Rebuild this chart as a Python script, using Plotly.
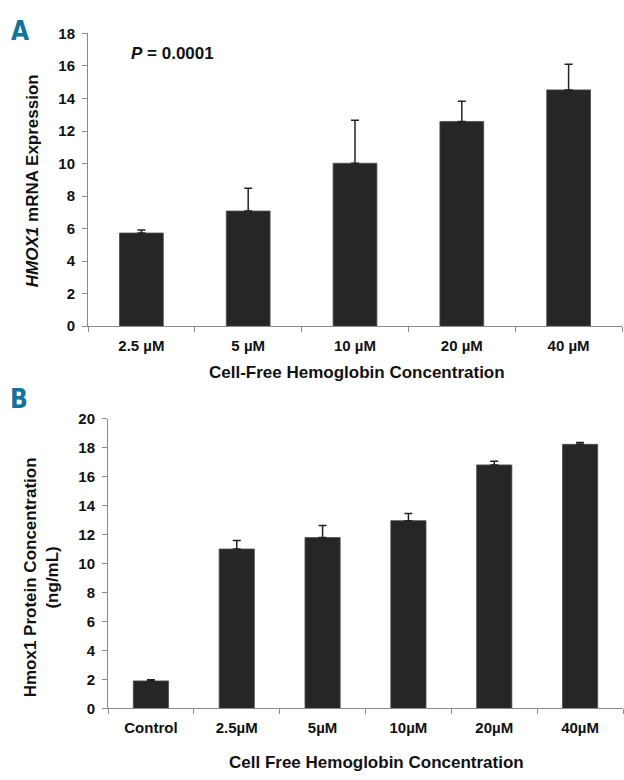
import plotly.graph_objects as go

# Panel A data
cats_a = ["2.5 µM", "5 µM", "10 µM", "20 µM", "40 µM"]
vals_a = [5.73, 7.08, 10.02, 12.59, 14.53]
errs_a = [0.19, 1.41, 2.64, 1.24, 1.58]
yticks_a = [0, 2, 4, 6, 8, 10, 12, 14, 16, 18]

# Panel B data
cats_b = ["Control", "2.5µM", "5µM", "10µM", "20µM", "40µM"]
vals_b = [1.90, 11.01, 11.80, 12.97, 16.82, 18.24]
errs_b = [0.08, 0.59, 0.84, 0.50, 0.25, 0.12]
yticks_b = [0, 2, 4, 6, 8, 10, 12, 14, 16, 18, 20]

W, H = 624, 780
FONT = "Liberation Sans, Arial, sans-serif"
BAR = "#262626"
AX = "#8a8a8a"
TEAL = "#14739a"


def px(x):
    return x / W


def py(y):
    return 1 - y / H


fig = go.Figure()

err_style = dict(type="data", symmetric=False, color="#222222", thickness=1.5, width=4)

fig.add_trace(go.Bar(
    x=cats_a, y=vals_a, xaxis="x", yaxis="y", width=0.41,
    marker=dict(color=BAR, line=dict(color="#4a4a4a", width=0.8)),
    error_y=dict(array=errs_a, arrayminus=[0] * len(errs_a), **err_style),
    showlegend=False,
))
fig.add_trace(go.Bar(
    x=cats_b, y=vals_b, xaxis="x2", yaxis="y2", width=0.41,
    marker=dict(color=BAR, line=dict(color="#4a4a4a", width=0.8)),
    error_y=dict(array=errs_b, arrayminus=[0] * len(errs_b), **err_style),
    showlegend=False,
))

tickfont = dict(family=FONT, size=15, color="#111111", weight="bold")

common_x = dict(
    type="category", showline=True, linecolor=AX, linewidth=1,
    ticks="outside", tickson="boundaries", ticklen=5, tickcolor=AX,
    showgrid=False, zeroline=False, tickfont=tickfont, ticklabelstandoff=6,
)
common_y = dict(
    showline=True, linecolor=AX, linewidth=1, ticks="outside", ticklen=5,
    tickcolor=AX, showgrid=False, zeroline=False, tickfont=tickfont,
    ticklabelstandoff=4,
)

fig.update_layout(
    width=W, height=H,
    margin=dict(l=0, r=0, t=0, b=0),
    paper_bgcolor="white", plot_bgcolor="white",
    bargap=0.59,
    xaxis=dict(domain=[px(88), px(622)], anchor="y", **common_x),
    yaxis=dict(domain=[py(324.3), py(25)], anchor="x", range=[0, 18],
               tickvals=yticks_a, **common_y),
    xaxis2=dict(domain=[px(108), px(623)], anchor="y2", **common_x),
    yaxis2=dict(domain=[py(715), py(419)], anchor="x2", range=[0, 20],
                tickvals=yticks_b, **common_y),
)

title_font = dict(family=FONT, size=17, color="#111111")

annotations = [
    # panel letters
    dict(text="<b>A</b>", x=px(20), y=py(22), font=dict(family="DejaVu Sans Condensed", size=26, color=TEAL)),
    dict(text="<b>B</b>", x=px(19), y=py(399), font=dict(family="DejaVu Sans Condensed", size=26, color=TEAL)),
    # P value
    dict(text="<b><i>P</i> = 0.0001</b>", x=px(172), y=py(45), font=title_font),
    # Panel A titles
    dict(text="<b>Cell-Free Hemoglobin Concentration</b>", x=px(357), y=py(372), font=title_font),
    dict(text="<b><i>HMOX1</i> mRNA Expression</b>", x=px(32), y=py(176), textangle=-90, font=title_font),
    # Panel B titles
    dict(text="<b>Cell Free Hemoglobin Concentration</b>", x=px(376), y=py(770), font=title_font),
    dict(text="<b>Hmox1 Protein Concentration<br>(ng/mL)</b>", x=px(41), y=py(581), textangle=-90,
         font=title_font),
]
for a in annotations:
    a.update(xref="paper", yref="paper", showarrow=False, xanchor="center", yanchor="middle")
fig.update_layout(annotations=annotations)

fig.write_html("out.html")
